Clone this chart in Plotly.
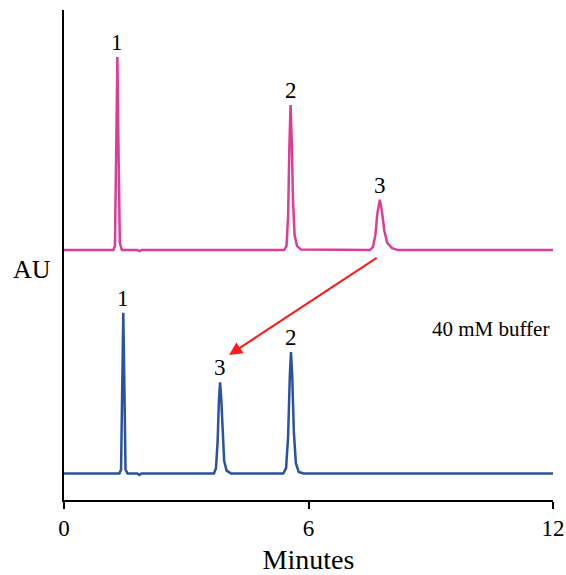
import plotly.graph_objects as go

# Pink chromatogram (top trace)
pink_x = [0.0, 1.0, 1.21, 1.25, 1.28, 1.31, 1.34, 1.37, 1.42, 1.8, 1.85, 1.9, 3.0, 4.5, 5.40, 5.46, 5.50, 5.53, 5.56, 5.59, 5.62, 5.66, 5.72, 5.82, 7.0, 7.50, 7.58, 7.64, 7.69, 7.75, 7.80, 7.86, 7.93, 8.05, 8.2, 10.0, 12.0]
pink_y = [51.0, 51.0, 51.0, 51.8, 72.0, 90.4, 70.0, 52.5, 51.0, 51.0, 50.8, 51.0, 51.0, 51.0, 51.0, 51.8, 58.0, 72.0, 80.6, 73.0, 61.0, 54.0, 51.8, 51.1, 51.0, 51.0, 51.6, 54.0, 58.5, 61.3, 59.0, 55.0, 52.5, 51.4, 51.0, 51.0, 51.0]

# Blue chromatogram (bottom trace)
blue_x = [0.0, 1.0, 1.36, 1.40, 1.43, 1.455, 1.48, 1.51, 1.56, 1.8, 1.85, 1.9, 3.0, 3.68, 3.73, 3.77, 3.80, 3.83, 3.86, 3.89, 3.93, 3.99, 4.1, 5.0, 5.38, 5.45, 5.50, 5.54, 5.57, 5.60, 5.64, 5.69, 5.76, 5.88, 8.0, 12.0]
blue_y = [5.4, 5.4, 5.4, 6.2, 24.0, 38.2, 24.0, 6.2, 5.4, 5.4, 5.1, 5.4, 5.4, 5.4, 6.5, 12.0, 20.0, 24.0, 20.5, 13.5, 8.0, 6.0, 5.4, 5.4, 5.4, 6.5, 13.0, 25.0, 30.2, 25.5, 14.0, 7.5, 5.7, 5.4, 5.4, 5.4]

# Peak labels
pink_labels = ["1", "2", "3"]
pink_label_x = [1.31, 5.56, 7.75]
pink_label_y = [90.4, 80.6, 61.3]
blue_labels = ["1", "3", "2"]
blue_label_x = [1.455, 3.83, 5.57]
blue_label_y = [38.2, 24.0, 30.2]

x_ticks = [0, 6, 12]

# Arrow (from pink peak 3 toward blue peak 3)
arrow_from = (7.71, 49.6)
arrow_to = (4.05, 29.6)

FONT = "Liberation Serif, Times New Roman, serif"

fig = go.Figure()
fig.add_trace(go.Scatter(x=pink_x, y=pink_y, mode="lines",
                         line=dict(color="#DD3C97", width=2.5), hoverinfo="skip"))
fig.add_trace(go.Scatter(x=blue_x, y=blue_y, mode="lines",
                         line=dict(color="#2A52A0", width=2.5), hoverinfo="skip"))

annotations = []
for t, x, y in zip(pink_labels, pink_label_x, pink_label_y):
    annotations.append(dict(x=x, y=y, text=t, showarrow=False, yanchor="bottom",
                            yshift=0, font=dict(family=FONT, size=23, color="black")))
for t, x, y in zip(blue_labels, blue_label_x, blue_label_y):
    annotations.append(dict(x=x, y=y, text=t, showarrow=False, yanchor="bottom",
                            yshift=0, font=dict(family=FONT, size=23, color="black")))

annotations.append(dict(x=arrow_to[0], y=arrow_to[1], ax=arrow_from[0], ay=arrow_from[1],
                        axref="x", ayref="y", xref="x", yref="y", text="",
                        showarrow=True, arrowhead=2, arrowsize=1.3, arrowwidth=2,
                        arrowcolor="#FF1A1A"))
annotations.append(dict(x=10.47, y=35.0, text="40 mM buffer", showarrow=False,
                        font=dict(family=FONT, size=21, color="black")))
annotations.append(dict(x=-0.022, y=47.0, xref="paper", yref="y", text="AU", showarrow=False,
                        xanchor="right", font=dict(family=FONT, size=26, color="black")))

fig.update_layout(
    width=566, height=575,
    margin=dict(l=64, r=13, t=10, b=75, autoexpand=False),
    paper_bgcolor="white", plot_bgcolor="white",
    showlegend=False,
    annotations=annotations,
    font=dict(family=FONT, color="black"),
)
fig.update_xaxes(range=[0, 12], tickvals=x_ticks, ticktext=[str(v) for v in x_ticks],
                 showgrid=False, zeroline=False, showline=True, linecolor="black",
                 linewidth=1.5, ticks="outside", ticklen=7, tickwidth=1.5, tickcolor="black",
                 automargin=False,
                 tickfont=dict(family=FONT, size=23, color="black"),
                 title=dict(text="Minutes", font=dict(family=FONT, size=28, color="black"), standoff=10))
fig.update_yaxes(range=[0, 100], showgrid=False, zeroline=False, showline=True,
                 linecolor="black", linewidth=1.5, showticklabels=False, ticks="",
                 automargin=False)

fig.write_html("out.html")
